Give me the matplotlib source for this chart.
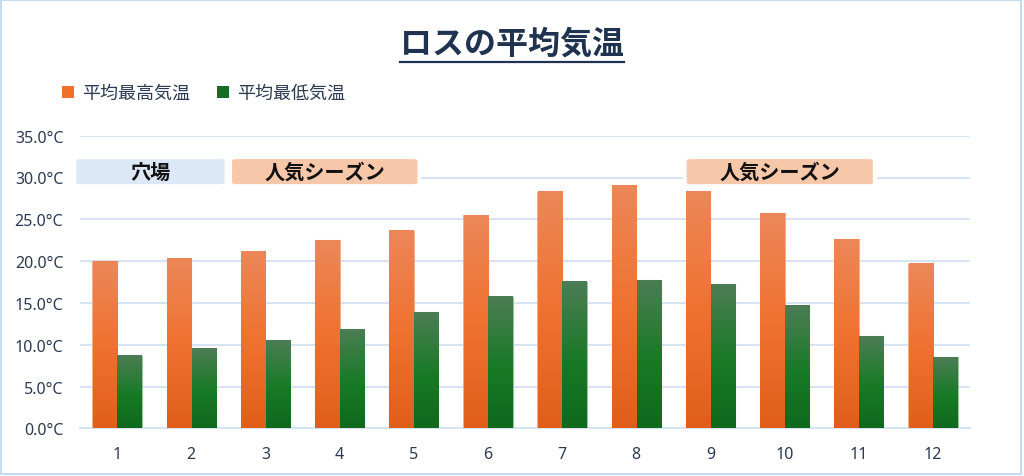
import numpy as np
import matplotlib
matplotlib.use("Agg")
import matplotlib.pyplot as plt
from matplotlib.colors import LinearSegmentedColormap
from matplotlib.patches import FancyBboxPatch, Rectangle, Patch

# Data
months = [str(m) for m in range(1, 13)]
avg_high = [20.0, 20.3, 21.1, 22.5, 23.6, 25.5, 28.3, 29.0, 28.3, 25.7, 22.6, 19.7]
avg_low = [8.7, 9.5, 10.5, 11.8, 13.9, 15.7, 17.5, 17.7, 17.2, 14.7, 11.0, 8.5]
series_names = ["平均最高気温", "平均最低気温"]
title = "ロスの平均気温"

# season labels: (text, left x, right x, colour) in month-index units
seasons = [
    ("穴場", -0.55, 1.45, "#DCE8F5"),
    ("人気シーズン", 1.55, 4.05, "#F7C7AA"),
    ("人気シーズン", 7.68, 10.19, "#F7C7AA"),
]

JP = ["Noto Sans CJK JP", "DejaVu Sans"]
NUM = ["Noto Sans", "DejaVu Sans"]
text_color = "#2B3A52"
grid_color = "#D5E3F2"

orange_cmap = LinearSegmentedColormap.from_list(
    "o", [(0.0, "#E05E1A"), (0.5, "#F07230"), (1.0, "#EC8759")])
green_cmap = LinearSegmentedColormap.from_list(
    "g", [(0.0, "#0F691D"), (0.45, "#177A25"), (1.0, "#4D7D55")])

fig = plt.figure(figsize=(10.24, 4.77), dpi=100)
ax = fig.add_axes([80 / 1024, 1 - 429.3 / 477, 890 / 1024, 292.6 / 477])

x = np.arange(len(months))
w = 0.333
bars_hi = ax.bar(x - w / 2, avg_high, w, color="#F0702A", edgecolor="#F5AE8C",
                 linewidth=0.8, zorder=3, label=series_names[0])
bars_lo = ax.bar(x + w / 2, avg_low, w, color="#1A6B23", edgecolor="#9EC0A2",
                 linewidth=0.8, zorder=3, label=series_names[1])

# vertical gradient fill per bar
grad = np.linspace(0, 1, 256).reshape(-1, 1)
for bars, cmap in ((bars_hi, orange_cmap), (bars_lo, green_cmap)):
    for b in bars:
        bx, by, bw, bh = b.get_x(), b.get_y(), b.get_width(), b.get_height()
        ax.imshow(grad, cmap=cmap, origin="lower", aspect="auto",
                  extent=(bx + 0.004, bx + bw - 0.004, by, by + bh - 0.03),
                  zorder=3.5, interpolation="bilinear")

ax.set_xlim(-0.5, len(months) - 0.5)
ax.set_ylim(0, 35)
ax.set_yticks(np.arange(0, 36, 5))
ax.set_yticklabels([f"{v:.1f}°C" for v in np.arange(0, 36, 5)])
ax.set_xticks(x)
ax.set_xticklabels(months)
ax.tick_params(axis="both", length=0, labelsize=11.5, colors=text_color)
ax.tick_params(axis="y", pad=12)
ax.tick_params(axis="x", pad=13)
for lab in ax.get_xticklabels() + ax.get_yticklabels():
    lab.set_family(NUM)
ax.grid(axis="y", color=grid_color, linewidth=1.4, zorder=0)
ax.set_axisbelow(True)
for s in ["top", "right", "left"]:
    ax.spines[s].set_visible(False)
ax.spines["bottom"].set_color(grid_color)
ax.spines["bottom"].set_linewidth(1.4)

# season boxes
for label, x0, x1, col in seasons:
    y0, y1 = 29.2, 32.2
    ax.add_patch(FancyBboxPatch((x0 - 0.05, y0 - 0.45), x1 - x0 + 0.1, y1 - y0 + 0.9,
                                boxstyle="square,pad=0", facecolor="white",
                                edgecolor="none", zorder=4, clip_on=False))
    ax.add_patch(FancyBboxPatch((x0, y0), x1 - x0, y1 - y0,
                                boxstyle="round,pad=0,rounding_size=0.06",
                                mutation_aspect=3.5,
                                facecolor=col, edgecolor="none", zorder=5, clip_on=False))
    ax.text((x0 + x1) / 2, (y0 + y1) / 2, label, ha="center", va="center",
            fontsize=14.5, fontweight="bold", color="#111111", family=JP, zorder=6)

# title with underline
t = fig.text(0.5, 1 - 45 / 477, title, ha="center", va="center", fontsize=23,
             fontweight="bold", color="#1F3350", family=JP)
fig.canvas.draw()
bb = t.get_window_extent().transformed(fig.transFigure.inverted())
fig.add_artist(plt.Line2D([bb.x0, bb.x1], [1 - 63 / 477] * 2, color="#1F3350",
                          linewidth=1.6, transform=fig.transFigure))

# legend
handles = [Patch(facecolor="#F0702A"), Patch(facecolor="#1A6B23")]
leg = fig.legend(handles, series_names, loc="center left",
                 bbox_to_anchor=(62 / 1024, 1 - 94 / 477), ncol=2, frameon=False,
                 borderpad=0, borderaxespad=0, handlelength=0.65, handleheight=0.65,
                 handletextpad=0.45, columnspacing=1.5,
                 prop={"family": JP, "size": 13})
for txt in leg.get_texts():
    txt.set_color(text_color)

# chart border
fig.add_artist(Rectangle((0.001, 0.004), 0.996, 0.993, transform=fig.transFigure,
                         facecolor="none", edgecolor="#C5DCF0", linewidth=1.5))

fig.savefig("out.png", dpi=100)
